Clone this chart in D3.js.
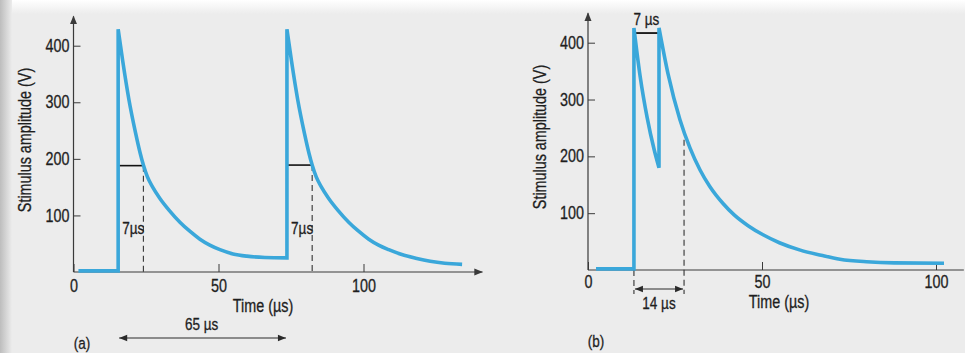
<!DOCTYPE html>
<html>
<head>
<meta charset="utf-8">
<script src="https://cdn.jsdelivr.net/npm/d3@7"></script>
<style>
  body { margin: 0; background: #ececec; }
  svg { display: block; }
  text { font-family: "Liberation Sans", Arial, sans-serif; fill: #1e1e1e; stroke: #1e1e1e; stroke-width: 0.3px; }
</style>
</head>
<body>
<div id="chart"></div>
<script>
// readings are [time µs, amplitude V]
const yTicks = [100, 200, 300, 400]
const xTicks = [0, 50, 100]

// (a) two single pulses, 65 µs apart
const baseA = [[1.7, 2], [15.4, 2]]
const decayA1 = [[15.4, 429], [17, 372], [19.1, 305], [21.4, 246], [23, 210], [24.1, 189],
  [25.5, 168], [27.3, 150], [29.8, 130], [33, 109], [36.7, 88], [40, 72.5], [43.6, 58],
  [47, 47.5], [50.5, 39.5], [55, 32], [59.8, 28], [66, 25.7], [73.6, 25]]
const decayA2 = [[73.6, 429], [75.2, 372], [77.3, 305], [79.6, 246], [81.2, 210], [82.3, 189],
  [83.7, 168], [85.5, 150], [88, 130], [91.2, 109], [94.9, 88], [98.2, 72.5], [101.8, 58],
  [105.2, 47.5], [108.7, 39.5], [113.2, 31], [118, 24.5], [123, 19], [128, 15.5], [134, 13.5]]

// (b) double pulse, 7 µs apart
const baseB = [[2.3, 2], [13.2, 2]]
const decayB1 = [[13.2, 426], [15, 340], [17, 268], [19, 212], [20.4, 180]]
const decayB2 = [[20.4, 426], [23, 345], [26.4, 265], [29.3, 215], [32.2, 176], [35, 147],
  [38.8, 117], [42, 97], [46, 78], [50.3, 62], [55, 48], [61, 35], [67, 26], [72.4, 19],
  [80, 14.5], [88, 12.5], [102.3, 12]]

const widthMarksA = [
  {t0: 15.4, t1: 24.1, v: 188, label: "7µs"},
  {t0: 73.6, t1: 82.3, v: 189, label: "7µs"}
]
const periodA = {t0: 15.4, t1: 73.6, label: "65 µs"}
const gapB = {t0: 13.2, t1: 20.4, v: 417, label: "7 µs"}
const spanB = {t0: 13.2, t1: 27.6, vTop: 229, label: "14 µs"}

const width = 965
const height = 353
const lineColor = "#3aa7da"
const axisColor = "#3a3a3a"
const squeeze = 0.82   // the book uses a condensed face

const svg = d3.select("#chart")
  .append("svg")
  .attr("width", width)
  .attr("height", height)

const defs = svg.append("defs")
defs.append("marker")
  .attr("id", "axis-arrow")
  .attr("viewBox", "0 0 10 10")
  .attr("refX", 9).attr("refY", 5)
  .attr("markerWidth", 9).attr("markerHeight", 9)
  .attr("markerUnits", "userSpaceOnUse")
  .attr("orient", "auto")
  .append("path")
  .attr("d", "M0,1 L10,5 L0,9 Z")
  .attr("fill", axisColor)
defs.append("marker")
  .attr("id", "dim-arrow")
  .attr("viewBox", "0 0 10 10")
  .attr("refX", 10).attr("refY", 5)
  .attr("markerWidth", 10).attr("markerHeight", 8)
  .attr("markerUnits", "userSpaceOnUse")
  .attr("orient", "auto-start-reverse")
  .append("path")
  .attr("d", "M0,1 L10,5 L0,9 Z")
  .attr("fill", "#2a2a2a")
const edge = defs.append("linearGradient").attr("id", "edge")
edge.append("stop").attr("offset", "0%").attr("stop-color", "#bdbdbd")
edge.append("stop").attr("offset", "100%").attr("stop-color", "#ececec")
const topFade = defs.append("linearGradient").attr("id", "top-fade")
  .attr("x1", 0).attr("y1", 0).attr("x2", 0).attr("y2", 1)
topFade.append("stop").attr("offset", "0%").attr("stop-color", "#ffffff")
topFade.append("stop").attr("offset", "100%").attr("stop-color", "#ececec")

// page background (scan look)
svg.append("rect").attr("width", width).attr("height", height).attr("fill", "#ececec")
svg.append("rect").attr("width", width).attr("height", 14).attr("fill", "url(#top-fade)")
svg.append("rect").attr("width", 12).attr("height", height).attr("fill", "url(#edge)")

function addText(g, x, y, str, size, anchor = "middle", rotate = 0) {
  return g.append("text")
    .attr("transform", `translate(${x},${y}) rotate(${rotate}) scale(${squeeze},1)`)
    .attr("text-anchor", anchor)
    .attr("dominant-baseline", "middle")
    .attr("font-size", size)
    .text(str)
}

// joins the decay pieces into one path, vertical rises between them
function pulsePath(x, y, pieces) {
  const line = d3.line()
    .x(d => x(d[0]))
    .y(d => y(d[1]))
    .curve(d3.curveMonotoneX)
  return pieces.map((p, i) => i === 0 ? line(p) : line(p).replace(/^M/, "L")).join("")
}

function drawPanel(p) {
  const g = svg.append("g")

  const yAxis = d3.axisLeft(p.y).tickValues(yTicks).tickSize(-7).tickPadding(5)
  g.append("g")
    .attr("transform", `translate(${p.x(0)},0)`)
    .call(yAxis)
    .call(a => a.select(".domain").remove())
    .call(a => a.selectAll("line").attr("stroke", axisColor))
    .call(a => a.selectAll("text")
      .attr("font-size", 17.5)
      .attr("font-family", null)
      .attr("fill", "#1e1e1e")
      .attr("transform", `scale(${squeeze},1)`))

  const xAxis = d3.axisBottom(p.x).tickValues(xTicks).tickSize(-8).tickPadding(p.xPad)
  g.append("g")
    .attr("transform", `translate(0,${p.y(0)})`)
    .call(xAxis)
    .call(a => a.select(".domain").remove())
    .call(a => a.selectAll("line").attr("stroke", axisColor))
    .call(a => a.selectAll("text")
      .attr("font-size", 17.5)
      .attr("font-family", null)
      .attr("fill", "#1e1e1e")
      .attr("transform", `scale(${squeeze},1)`))

  g.append("line")
    .attr("x1", p.x(0)).attr("x2", p.x(0))
    .attr("y1", p.y(0)).attr("y2", p.y(p.yEnd))
    .attr("stroke", axisColor).attr("stroke-width", 1.2)
    .attr("marker-end", "url(#axis-arrow)")
  g.append("line")
    .attr("x1", p.x(0)).attr("x2", p.x(p.xEnd))
    .attr("y1", p.y(0)).attr("y2", p.y(0))
    .attr("stroke", axisColor).attr("stroke-width", 1.2)
    .attr("marker-end", p.xArrow ? "url(#axis-arrow)" : null)

  addText(g, p.yLabel[0], p.yLabel[1], "Stimulus amplitude (V)", 17.5, "middle", -90)
  addText(g, p.xLabel[0], p.xLabel[1], "Time (µs)", 17.5)
  addText(g, p.tag[0], p.tag[1], p.letter, 16.5)
  return g
}

function drawPulse(g, p) {
  g.append("path")
    .attr("d", pulsePath(p.x, p.y, p.pieces))
    .attr("fill", "none")
    .attr("stroke", lineColor)
    .attr("stroke-width", 3.6)
    .attr("stroke-linejoin", "miter")
    .attr("stroke-miterlimit", 3)
}

// ---- panel (a)
const panelA = {
  x: d3.scaleLinear().domain([0, 100]).range([73.5, 363.5]),
  y: d3.scaleLinear().domain([0, 400]).range([272, 45.7]),
  pieces: [baseA, decayA1, decayA2],
  xEnd: 141, yEnd: 452, xArrow: true, xPad: 8,
  yLabel: [26, 140], xLabel: [263, 307], tag: [82, 345], letter: "(a)"
}
const gA = drawPanel(panelA)

widthMarksA.forEach(m => {
  gA.append("line")
    .attr("x1", panelA.x(m.t0)).attr("x2", panelA.x(m.t1))
    .attr("y1", panelA.y(m.v)).attr("y2", panelA.y(m.v))
    .attr("stroke", "#111").attr("stroke-width", 1.6)
  gA.append("line")
    .attr("x1", panelA.x(m.t1)).attr("x2", panelA.x(m.t1))
    .attr("y1", panelA.y(m.v)).attr("y2", panelA.y(0))
    .attr("stroke", "#333").attr("stroke-width", 1.1)
    .attr("stroke-dasharray", "6,4")
  addText(gA, panelA.x(m.t1) + 1, panelA.y(74), m.label, 16.5, "end")
})
drawPulse(gA, panelA)

gA.append("line")
  .attr("x1", panelA.x(periodA.t0) + 1).attr("x2", panelA.x(periodA.t1) - 1)
  .attr("y1", 338).attr("y2", 338)
  .attr("stroke", "#2a2a2a").attr("stroke-width", 1.2)
  .attr("marker-start", "url(#dim-arrow)")
  .attr("marker-end", "url(#dim-arrow)")
addText(gA, (panelA.x(periodA.t0) + panelA.x(periodA.t1)) / 2 - 1, 326, periodA.label, 16.5)

// ---- panel (b)
const panelB = {
  x: d3.scaleLinear().domain([0, 100]).range([588, 936]),
  y: d3.scaleLinear().domain([0, 400]).range([270, 42.7]),
  pieces: [baseB, decayB1, decayB2],
  xEnd: 108, yEnd: 452, xArrow: false, xPad: 6,
  yLabel: [541, 137], xLabel: [779, 303], tag: [596, 343], letter: "(b)"
}
const gB = drawPanel(panelB)

gB.append("line")
  .attr("x1", panelB.x(gapB.t0)).attr("x2", panelB.x(gapB.t1))
  .attr("y1", panelB.y(gapB.v)).attr("y2", panelB.y(gapB.v))
  .attr("stroke", "#111").attr("stroke-width", 1.8)
addText(gB, (panelB.x(gapB.t0) + panelB.x(gapB.t1)) / 2, 21, gapB.label, 16.5)

gB.append("line")
  .attr("x1", panelB.x(spanB.t0)).attr("x2", panelB.x(spanB.t0))
  .attr("y1", panelB.y(0)).attr("y2", 294)
  .attr("stroke", "#333").attr("stroke-width", 1.1)
  .attr("stroke-dasharray", "6,4")
gB.append("line")
  .attr("x1", panelB.x(spanB.t1)).attr("x2", panelB.x(spanB.t1))
  .attr("y1", panelB.y(spanB.vTop)).attr("y2", 294)
  .attr("stroke", "#333").attr("stroke-width", 1.1)
  .attr("stroke-dasharray", "6,4")
drawPulse(gB, panelB)

gB.append("line")
  .attr("x1", panelB.x(spanB.t0) + 1).attr("x2", panelB.x(spanB.t1) - 1)
  .attr("y1", 289).attr("y2", 289)
  .attr("stroke", "#2a2a2a").attr("stroke-width", 1.2)
  .attr("marker-start", "url(#dim-arrow)")
  .attr("marker-end", "url(#dim-arrow)")
addText(gB, (panelB.x(spanB.t0) + panelB.x(spanB.t1)) / 2, 305, spanB.label, 16.5)
</script>
</body>
</html>
